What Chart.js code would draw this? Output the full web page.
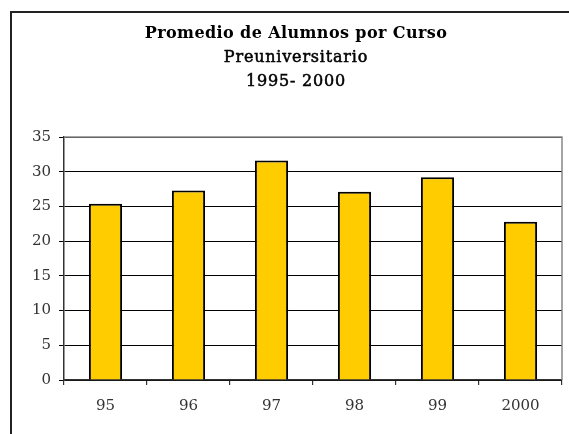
<!DOCTYPE html>
<html><head><meta charset="utf-8">
<script src="https://cdn.jsdelivr.net/npm/chart.js@4/dist/chart.umd.min.js"></script>
<style>
html,body{margin:0;padding:0;background:#fff;overflow:hidden;width:569px;height:434px;}
#frame{position:absolute;left:10px;top:11px;width:700px;height:600px;border:2px solid #222;box-sizing:border-box;}
#wrap{position:absolute;left:0;top:0;width:569px;height:434px;}
</style></head>
<body>
<div id="frame"></div>
<div id="wrap"><canvas id="c" width="569" height="434"></canvas></div>
<script>
const categories = ['95','96','97','98','99','2000'];
const values = [25.4, 27.3, 31.6, 27.1, 29.2, 22.8];
const titleLines = ['Promedio de Alumnos por Curso','Preuniversitario','1995- 2000'];

const plotBorder = {
  id:'plotBorder',
  afterDatasetsDraw(chart){
    const a = chart.chartArea, ctx = chart.ctx;
    ctx.save();
    ctx.strokeStyle = '#888';
    ctx.lineWidth = 1.5;
    ctx.beginPath();
    ctx.moveTo(a.left, a.top); ctx.lineTo(a.right, a.top); ctx.lineTo(a.right, a.bottom);
    ctx.stroke();
    ctx.restore();
  }
};

const titlePlugin = {
  id:'titleLines',
  afterDraw(chart){
    const ctx = chart.ctx;
    ctx.save();
    ctx.fillStyle = '#000';
    ctx.strokeStyle = '#000';
    ctx.textAlign = 'center';
    ctx.textBaseline = 'alphabetic';
    const cx = 296;
    const base = [38, 62, 86];
    titleLines.forEach((t, i) => {
      ctx.font = (i === 0 ? 'bold 16px' : '16px') + ' "DejaVu Serif"';
      if ('letterSpacing' in ctx) ctx.letterSpacing = i === 0 ? '0.4px' : '0.8px';
      ctx.fillText(t, cx, base[i]);
      if (i > 0) { ctx.lineWidth = 0.5; ctx.strokeText(t, cx, base[i]); }
    });
    ctx.restore();
  }
};

new Chart(document.getElementById('c'), {
  type:'bar',
  data:{labels:categories, datasets:[{data:values, backgroundColor:'#FFCC00', borderColor:'#000', borderWidth:2, barPercentage:0.4, categoryPercentage:1.0}]},
  plugins:[plotBorder, titlePlugin],
  options:{
    responsive:false, animation:false,
    layout:{padding:{left:0,right:7,top:137,bottom:0}},
    plugins:{ legend:{display:false}, tooltip:{enabled:false}, title:{display:false} },
    scales:{
      x:{
        grid:{offset:true, drawOnChartArea:false, tickLength:5, color:'#333', lineWidth:1.2},
        border:{color:'#333', width:1.5},
        ticks:{color:'#333', font:{family:'DejaVu Serif', size:15}, padding:12},
        afterFit(s){ s.height = 54; }
      },
      y:{
        min:0, max:35,
        ticks:{stepSize:5, color:'#333', font:{family:'DejaVu Serif', size:15}, padding:8},
        grid:{color:'#000', lineWidth:1, tickLength:5},
        border:{color:'#333', width:1.5},
        afterFit(s){ s.width = 64; }
      }
    }
  }
});
</script>
</body></html>
